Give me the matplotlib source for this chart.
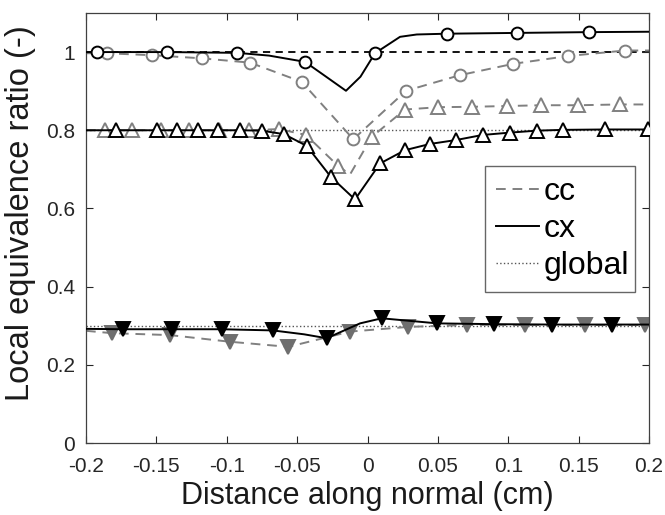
import numpy as np
import matplotlib.pyplot as plt

plt.rcParams['font.family'] = ['Liberation Sans', 'DejaVu Sans']
plt.rcParams['axes.unicode_minus'] = False

GREY = '#808080'

# global (reference) equivalence ratios
global_phi = [1.0, 0.8, 0.3]

# --- phi = 1.0 case (circles) ---
cx1_x = [-0.2, -0.1925, -0.1425, -0.0925, -0.07, -0.0444, -0.031, -0.0153, -0.005, 0.0053,
         0.0231, 0.035, 0.0563, 0.106, 0.157, 0.2]
cx1_y = [1.0, 1.0, 1.0, 0.998, 0.991, 0.975, 0.941, 0.901, 0.937, 0.997,
         1.039, 1.045, 1.047, 1.049, 1.051, 1.052]
cx1_mk = [1, 2, 3, 5, 9, 12, 13, 14]

cc1_x = [-0.2, -0.1853, -0.1533, -0.1178, -0.0835, -0.0468, -0.0101, 0.0274, 0.0657,
         0.1036, 0.1427, 0.183, 0.2]
cc1_y = [0.997, 0.997, 0.992, 0.984, 0.973, 0.924, 0.777, 0.901, 0.941,
         0.970, 0.990, 1.004, 1.004]
cc1_mk = list(range(1, 12))

# --- phi = 0.8 case (up triangles) ---
cx2_x = [-0.2, -0.1787, -0.1498, -0.1351, -0.1206, -0.106, -0.0906, -0.0752, -0.0593,
         -0.0432, -0.0261, -0.0089, 0.0089, 0.0266, 0.0444, 0.0629, 0.0818, 0.1012,
         0.1202, 0.139, 0.1687, 0.199]
cx2_y = [0.80, 0.80, 0.80, 0.80, 0.80, 0.80, 0.80, 0.799, 0.79,
         0.76, 0.681, 0.623, 0.715, 0.749, 0.765, 0.775, 0.788, 0.794,
         0.799, 0.801, 0.802, 0.802]
cx2_mk = list(range(1, 22))

cc2_x = [-0.2, -0.1865, -0.1671, -0.147, -0.127, -0.1056, -0.0843, -0.063, -0.0437,
         -0.0207, -0.0124, 0.003, 0.0266, 0.0502, 0.0739, 0.0988, 0.1236, 0.1497,
         0.1793, 0.2]
cc2_y = [0.80, 0.80, 0.80, 0.80, 0.80, 0.80, 0.80, 0.803, 0.788,
         0.708, 0.687, 0.783, 0.853, 0.859, 0.860, 0.862, 0.864, 0.864,
         0.866, 0.866]
cc2_mk = [1, 2, 3, 4, 5, 6, 7, 8, 9, 11, 12, 13, 14, 15, 16, 17, 18]

# --- phi = 0.3 case (down triangles) ---
cx3_x = [-0.2, -0.1735, -0.1391, -0.1036, -0.0673, -0.045, -0.029, -0.0053, 0.0101,
         0.0496, 0.0899, 0.1309, 0.1735, 0.2]
cx3_y = [0.292, 0.291, 0.291, 0.291, 0.288, 0.278, 0.268, 0.306, 0.319,
         0.306, 0.304, 0.303, 0.303, 0.303]
cx3_mk = [1, 2, 3, 4, 6, 8, 9, 10, 11, 12]

cc3_x = [-0.2, -0.1817, -0.1403, -0.0977, -0.0563, -0.0124, 0.029, 0.0705, 0.1119,
         0.1545, 0.1972]
cc3_y = [0.287, 0.281, 0.276, 0.259, 0.246, 0.285, 0.297, 0.302, 0.302,
         0.302, 0.302]
cc3_mk = list(range(1, 11))

xticks = [-0.2, -0.15, -0.1, -0.05, 0, 0.05, 0.1, 0.15, 0.2]
xticklabels = ['-0.2', '-0.15', '-0.1', '-0.05', '0', '0.05', '0.1', '0.15', '0.2']
yticks = [0, 0.2, 0.4, 0.6, 0.8, 1.0]
yticklabels = ['0', '0.2', '0.4', '0.6', '0.8', '1']

fig = plt.figure(figsize=(6.65, 5.15), dpi=100)
ax = fig.add_axes([0.1293, 0.1398, 0.8467, 0.835])

# global lines
ax.axhline(global_phi[0], color='black', ls=(0, (4, 3)), lw=1.3, zorder=1)
for g in global_phi[1:]:
    ax.axhline(g, color='#555555', ls=':', lw=1.0, zorder=1)

ms = 8.5
mew = 1.4
# cc series (grey, dashed)
ax.plot(cc1_x, cc1_y, color=GREY, ls=(0, (5, 3.5)), lw=1.4, marker='o', ms=ms,
        mfc='white', mec=GREY, mew=mew, markevery=cc1_mk, zorder=2)
ax.plot(cc2_x, cc2_y, color=GREY, ls=(0, (5, 3.5)), lw=1.4, marker='^', ms=ms + 1,
        mfc='white', mec=GREY, mew=mew, markevery=cc2_mk, zorder=2)
ax.plot(cc3_x, cc3_y, color=GREY, ls=(0, (5, 3.5)), lw=1.4, marker='v', ms=ms + 1,
        mfc='#6e6e6e', mec='#6e6e6e', mew=mew, markevery=cc3_mk, zorder=2)

# cx series (black, solid)
ax.plot(cx1_x, cx1_y, color='black', lw=1.4, marker='o', ms=ms,
        mfc='white', mec='black', mew=mew, markevery=cx1_mk, zorder=3)
ax.plot(cx2_x, cx2_y, color='black', lw=1.4, marker='^', ms=ms + 1,
        mfc='white', mec='black', mew=mew, markevery=cx2_mk, zorder=3)
ax.plot(cx3_x, cx3_y, color='black', lw=1.4, marker='v', ms=ms + 1,
        mfc='black', mec='black', mew=mew, markevery=cx3_mk, zorder=3)

# legend proxies
h_cc, = ax.plot([], [], color=GREY, ls=(0, (5, 3.5)), lw=1.4, label='cc')
h_cx, = ax.plot([], [], color='black', lw=1.4, label='cx')
h_gl, = ax.plot([], [], color='#555555', ls=':', lw=1.0, label='global')
leg = ax.legend(handles=[h_cc, h_cx, h_gl], loc='upper left',
                bbox_to_anchor=(0.709, 0.644, 0.266, 0.0), mode='expand',
                fontsize=23, frameon=True, fancybox=False, edgecolor='#404040',
                handlelength=1.35, handletextpad=0.12, borderpad=0.35,
                labelspacing=0.22, borderaxespad=0)
leg.get_frame().set_linewidth(1.0)

ax.set_xlim(-0.2, 0.2)
ax.set_ylim(0, 1.1)
ax.set_xticks(xticks)
ax.set_xticklabels(xticklabels)
ax.set_yticks(yticks)
ax.set_yticklabels(yticklabels)
ax.tick_params(direction='in', top=True, right=True, length=5, width=0.8,
               labelsize=15, colors='#262626')
ax.tick_params(axis='x', pad=10)
ax.tick_params(axis='y', pad=8)
for s in ax.spines.values():
    s.set_color('#404040')
    s.set_linewidth(0.9)

ax.set_xlabel('Distance along normal (cm)', fontsize=22, labelpad=4, color='#1a1a1a')
ax.set_ylabel('Local equivalence ratio (-)', fontsize=23.5, color='#1a1a1a')
ax.yaxis.set_label_coords(-0.088, 0.535)

fig.savefig('out.png', dpi=100)
